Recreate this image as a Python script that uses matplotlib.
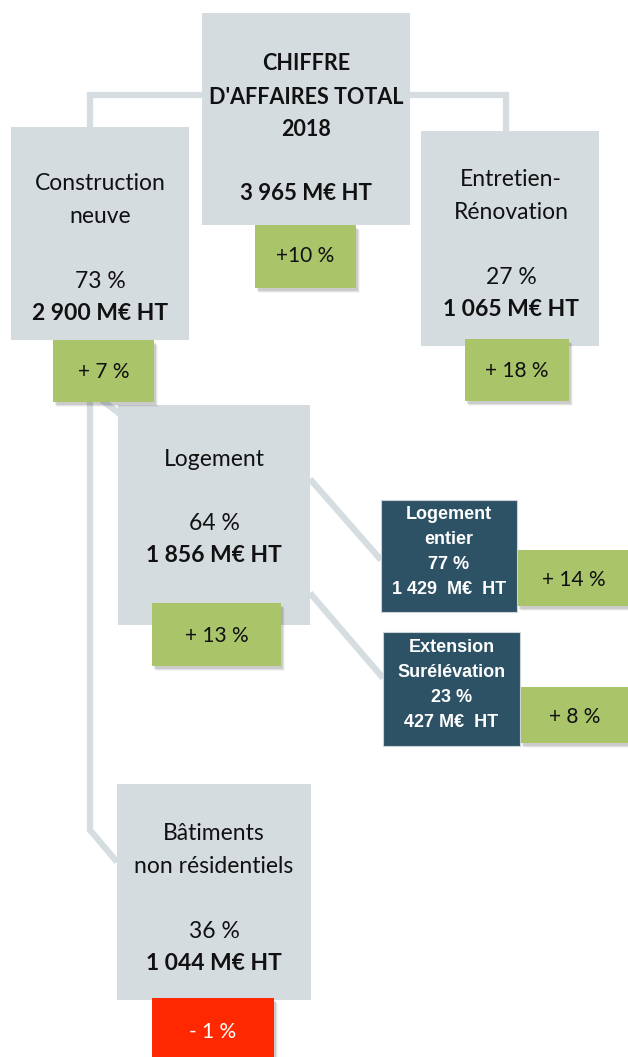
import matplotlib
matplotlib.use("Agg")
import matplotlib.pyplot as plt
from matplotlib.patches import Rectangle

# ---- data ----
total_title = ["CHIFFRE", "D'AFFAIRES TOTAL", "2018"]
total_value = "3 965 M€ HT"
total_growth = "+10 %"

segments = ["Construction\nneuve", "Entretien-\nRénovation"]
segment_shares = ["73 %", "27 %"]
segment_values = ["2 900 M€ HT", "1 065 M€ HT"]
segment_growth = ["+ 7 %", "+ 18 %"]

sub_segments = ["Logement", "Bâtiments\nnon résidentiels"]
sub_shares = ["64 %", "36 %"]
sub_values = ["1 856 M€ HT", "1 044 M€ HT"]
sub_growth = ["+ 13 %", "- 1 %"]

housing_types = ["Logement\nentier", "Extension\nSurélévation"]
housing_shares = ["77 %", "23 %"]
housing_values = ["1 429  M€  HT", "427 M€  HT"]
housing_growth = ["+ 14 %", "+ 8 %"]

# ---- style ----
GREY = "#d5dce0"
LINE = "#d5dde0"
GREEN = "#aac46a"
DARK = "#2d5265"
RED = "#ff2800"
MAIN_FONT = ["Lato", "DejaVu Sans"]
NARROW_FONT = ["Liberation Sans Narrow", "Liberation Sans", "DejaVu Sans"]

W, H = 628, 1057
fig = plt.figure(figsize=(W / 100, H / 100), dpi=100)
ax = fig.add_axes([0, 0, 1, 1])
ax.set_xlim(0, W)
ax.set_ylim(H, 0)
ax.axis("off")


def box(x0, y0, x1, y1, color, shadow=False, z=2):
    if shadow:
        for i, a in enumerate([0.10, 0.07, 0.04]):
            ax.add_patch(Rectangle((x0 + 2 + i, y0 + 3 + i), x1 - x0, y1 - y0,
                                   facecolor="#000000", alpha=a, lw=0, zorder=z - 0.5))
    ax.add_patch(Rectangle((x0, y0), x1 - x0, y1 - y0, facecolor=color, lw=0, zorder=z))


def txt(x, y, s, size=16.5, bold=False, color="#111111", family=MAIN_FONT, z=5,
        ls=1.2, **kw):
    ax.text(x, y, s, ha="center", va="center", fontsize=size,
            fontweight="bold" if bold else "normal", color=color,
            family=family, zorder=z, linespacing=ls, **kw)


def line(xs, ys, z=1):
    ax.plot(xs, ys, color=LINE, lw=4.5, solid_capstyle="butt",
            solid_joinstyle="miter", zorder=z)


# connectors
line([90, 90, 506, 506], [127, 95, 95, 131])
line([90, 90, 117], [395, 830, 862])
line([95, 120], [395, 414])
line([310, 381], [479, 560])
line([310, 383], [593, 678])

# total box
box(202, 13, 410, 225, GREY)
for t, y in zip(total_title, [64, 97, 129]):
    txt(306, y, t, size=15.5, bold=True)
txt(306, 194, total_value, size=16, bold=True)
box(255, 225, 356, 288, GREEN, shadow=True, z=3)
txt(305, 256, total_growth, size=15)

# segment boxes
seg_geo = [(11, 189, 127, 340, 100), (421, 599, 131, 346, 511)]
seg_text_y = [(200, 281, 313), (196, 277, 310)]
seg_growth_geo = [(53, 154, 340, 402), (465, 569, 339, 401)]
for i in range(2):
    x0, x1, y0, y1, cx = seg_geo[i]
    box(x0, y0, x1, y1, GREY)
    ty1, ty2, ty3 = seg_text_y[i]
    txt(cx, ty1, segments[i], ls=1.7)
    txt(cx, ty2, segment_shares[i])
    txt(cx, ty3, segment_values[i], bold=True)
    gx0, gx1, gy0, gy1 = seg_growth_geo[i]
    box(gx0, gy0, gx1, gy1, GREEN, shadow=True, z=3)
    txt((gx0 + gx1) / 2, (gy0 + gy1) / 2 + 1, segment_growth[i], size=15)

# sub segments
sub_geo = [(118, 310, 405, 625, 214), (117, 311, 784, 1000, 214)]
sub_text_y = [(459, 523, 556), (850, 932, 964)]
sub_growth_geo = [(152, 281, 603, 666), (152, 274, 998, 1065)]
sub_growth_colors = [GREEN, RED]
sub_growth_text = ["#111111", "white"]
for i in range(2):
    x0, x1, y0, y1, cx = sub_geo[i]
    box(x0, y0, x1, y1, GREY)
    ty1, ty2, ty3 = sub_text_y[i]
    txt(cx, ty1, sub_segments[i], ls=1.7)
    txt(cx, ty2, sub_shares[i])
    txt(cx, ty3, sub_values[i], bold=True)
    gx0, gx1, gy0, gy1 = sub_growth_geo[i]
    box(gx0, gy0, gx1, gy1, sub_growth_colors[i], shadow=True, z=3)
    txt((gx0 + gx1) / 2, min((gy0 + gy1) / 2, 1032) + 1, sub_growth[i],
        size=15, color=sub_growth_text[i])

# housing types (dark boxes)
dark_geo = [(381, 517, 500, 612), (383, 520, 632, 746)]
dark_growth_geo = [(517, 628, 550, 606), (520, 628, 687, 743)]
for i in range(2):
    x0, x1, y0, y1 = dark_geo[i]
    box(x0, y0, x1, y1, DARK, z=3)
    ax.add_patch(Rectangle((x0, y0), x1 - x0, y1 - y0, facecolor="none",
                           edgecolor="#c9d3d8", lw=0.8, zorder=3.1))
    s = f"{housing_types[i]}\n{housing_shares[i]}\n{housing_values[i]}"
    txt((x0 + x1) / 2, (y0 + y1) / 2 - 4, s, size=13, bold=True,
        color="white", family=NARROW_FONT, ls=1.62)
    gx0, gx1, gy0, gy1 = dark_growth_geo[i]
    box(gx0, gy0, gx1, gy1, GREEN, shadow=True, z=3)
    txt((gx0 + gx1) / 2 + 1, (gy0 + gy1) / 2 + 2, housing_growth[i], size=15)

fig.savefig("out.png", dpi=100)
